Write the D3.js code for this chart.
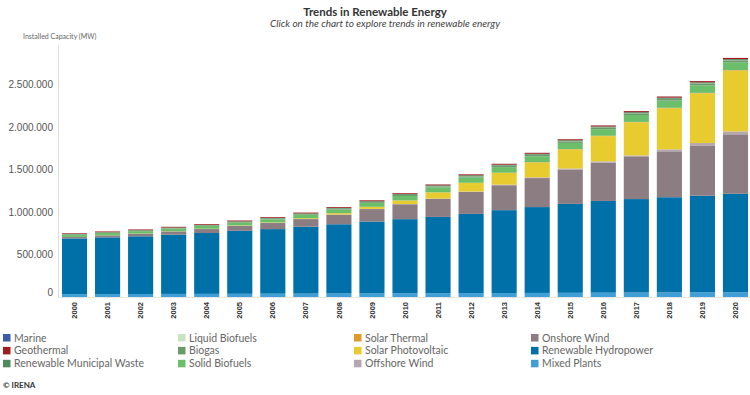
<!DOCTYPE html>
<html>
<head>
<meta charset="utf-8">
<script src="https://cdn.jsdelivr.net/npm/d3@7"></script>
<style>
  body { margin: 0; background: #fff; font-family: Lato, "Open Sans", sans-serif; }
  #svg-container { width: 750px; height: 395px; }
  .title { font-size: 11.5px; font-weight: bold; fill: #333; }
  .subtitle { font-size: 10px; font-style: italic; fill: #444; }
  .unit { font-size: 7px; fill: #666; }
  .y-axis text { font-size: 10px; fill: #555; }
  .x-axis text { font-size: 7.5px; font-weight: bold; fill: #333; }
  .legend-texts { font-size: 10.5px; fill: #666; }
  .credit { font-size: 8px; font-weight: bold; fill: #333; }
</style>
</head>
<body>
<div id="svg-container"></div>
<script>
////////////////////////////  Data  ////////////////////////////////
const years = ["2000", "2001", "2002", "2003", "2004", "2005", "2006", "2007", "2008", "2009", "2010",
  "2011", "2012", "2013", "2014", "2015", "2016", "2017", "2018", "2019", "2020"];

// installed capacity in MW, stacked bottom -> top
const mixedPlants = [34000, 34500, 35200, 36100, 36800, 37500, 38900, 39600, 40800, 41500, 42900,
  44100, 45600, 46800, 47900, 49300, 50800, 52100, 53000, 54200, 55000];
const hydropower = [655000, 667000, 679000, 697000, 716000, 741000, 760000, 787000, 815000, 846000, 873000,
  898000, 932000, 975000, 1010000, 1046000, 1079000, 1100000, 1121000, 1137000, 1159000];
const onshoreWind = [16500, 23000, 30300, 38200, 46400, 57400, 71300, 90100, 113000, 147000, 175000,
  212000, 258000, 293000, 341000, 405000, 452000, 495000, 540000, 592000, 700000];
const offshoreWind = [70, 110, 250, 530, 620, 700, 860, 1100, 1480, 2050, 3050,
  3800, 5300, 7100, 8700, 11700, 14200, 18700, 23400, 28200, 34400];
const solarPV = [800, 1100, 1500, 2100, 3000, 4500, 6100, 8900, 15800, 23500, 41000,
  72000, 101000, 137000, 174000, 223000, 296000, 389000, 483000, 584000, 714000];
const solarThermal = [400, 400, 400, 400, 400, 400, 420, 440, 490, 700, 1300,
  1700, 2500, 3600, 4600, 4800, 4900, 5100, 5600, 6200, 6500];
const solidBiofuels = [25000, 26400, 28100, 30300, 32000, 34600, 36400, 39100, 42200, 46000, 52000,
  57100, 61200, 65300, 69100, 73000, 77200, 81300, 85100, 89000, 93000];
const biogas = [3500, 4000, 4600, 5200, 6000, 6700, 7400, 8300, 9100, 10300, 11900,
  13400, 14800, 15900, 16700, 17400, 18100, 18700, 19300, 19900, 20500];
const liquidBiofuels = [450, 480, 520, 560, 610, 680, 760, 880, 1050, 1280, 1560,
  1760, 1890, 1950, 2010, 2080, 2150, 2200, 2280, 2340, 2400];
const municipalWaste = [5400, 5700, 6100, 6600, 6900, 7200, 7700, 8100, 8400, 8900, 9300,
  9600, 10100, 10600, 10900, 11400, 11800, 12100, 12600, 13100, 13500];
const geothermal = [8000, 8300, 8500, 8700, 8900, 9100, 9300, 9500, 9800, 10200, 10000,
  10200, 10400, 10700, 11300, 11900, 12300, 12800, 13200, 13900, 14100];
const marine = [264, 264, 264, 264, 264, 264, 264, 264, 264, 265, 268,
  510, 512, 514, 516, 520, 522, 526, 528, 527, 527];

const yTicks = [0, 500000, 1000000, 1500000, 2000000, 2500000];

// series in stack order (bottom first)
const series = [
  { key: "Mixed Plants", values: mixedPlants, color: "#3f9fd6" },
  { key: "Renewable Hydropower", values: hydropower, color: "#0071a8" },
  { key: "Onshore Wind", values: onshoreWind, color: "#8b7d82" },
  { key: "Offshore Wind", values: offshoreWind, color: "#b6a7ae" },
  { key: "Solar Photovoltaic", values: solarPV, color: "#e8cc2f" },
  { key: "Solar Thermal", values: solarThermal, color: "#e09a2c" },
  { key: "Solid Biofuels", values: solidBiofuels, color: "#6cbf6a" },
  { key: "Biogas", values: biogas, color: "#6a9a6c" },
  { key: "Liquid Biofuels", values: liquidBiofuels, color: "#c6e4c1" },
  { key: "Renewable Municipal Waste", values: municipalWaste, color: "#4f8a5e" },
  { key: "Geothermal", values: geothermal, color: "#a11c1c" },
  { key: "Marine", values: marine, color: "#3c5ba8" },
];

// legend is read column by column, top of stack first
const legendOrder = series.map((d) => d.key).reverse();

////////////////////////////  Init  ////////////////////////////////
const width = 750;
const height = 395;
const margin = { top: 42, right: -2, bottom: 97, left: 58 };

const svg = d3.select("#svg-container").append("svg")
  .attr("width", width).attr("height", height);

const table = years.map((y, i) => {
  const row = { year: y };
  series.forEach((s) => (row[s.key] = s.values[i]));
  return row;
});

const stacked = d3.stack().keys(series.map((s) => s.key))(table);

const xScale = d3.scaleBand()
  .domain(years)
  .range([margin.left, width - margin.right])
  .paddingInner(0.24)
  .paddingOuter(0.12);

const yScale = d3.scaleLinear()
  .domain([0, 3000000])
  .range([height - margin.bottom - 1, margin.top]);

const colorScale = d3.scaleOrdinal()
  .domain(series.map((s) => s.key))
  .range(series.map((s) => s.color));

const formatY = d3.formatLocale({ decimal: ",", thousands: ".", grouping: [3], currency: ["", ""] }).format(",d");

////////////////////////////  Title  ////////////////////////////////
svg.append("text").attr("class", "title")
  .attr("x", 375).attr("y", 16).attr("text-anchor", "middle")
  .text("Trends in Renewable Energy");

svg.append("text").attr("class", "subtitle")
  .attr("x", 385).attr("y", 27).attr("text-anchor", "middle")
  .text("Click on the chart to explore trends in renewable energy");

svg.append("text").attr("class", "unit")
  .attr("x", 23).attr("y", 39)
  .text("Installed Capacity (MW)");

////////////////////////////  Axes  ////////////////////////////////
const yAxis = d3.axisLeft(yScale).tickValues(yTicks).tickFormat(formatY).tickSize(0).tickPadding(5);

const yG = svg.append("g").attr("class", "y-axis")
  .attr("transform", `translate(${margin.left}, 0)`)
  .call(yAxis);
yG.select(".domain").remove();
yG.selectAll("text").filter((d) => d === 0).attr("dy", "-0.2em");

svg.append("line")
  .attr("x1", margin.left + 0.5).attr("x2", margin.left + 0.5)
  .attr("y1", 45).attr("y2", yScale(0))
  .attr("stroke", "#ddd");

svg.append("line")
  .attr("x1", margin.left).attr("x2", width)
  .attr("y1", yScale(0) + 0.5).attr("y2", yScale(0) + 0.5)
  .attr("stroke", "#e6e6e6");

const xAxis = d3.axisBottom(xScale).tickSize(0);
const xG = svg.append("g").attr("class", "x-axis")
  .attr("transform", `translate(0, ${yScale(0)})`)
  .call(xAxis);
xG.select(".domain").remove();
xG.selectAll("text")
  .attr("transform", "rotate(-90)")
  .attr("text-anchor", "end")
  .attr("x", -5)
  .attr("y", 0)
  .attr("dy", "0.35em");

////////////////////////////  Bars  ////////////////////////////////
svg.append("g")
  .selectAll("g")
  .data(stacked)
  .join("g")
  .attr("fill", (d) => colorScale(d.key))
  .selectAll("rect")
  .data((d) => d)
  .join("rect")
  .attr("x", (d) => xScale(d.data.year))
  .attr("y", (d) => yScale(d[1]))
  .attr("width", xScale.bandwidth())
  .attr("height", (d) => yScale(d[0]) - yScale(d[1]));

////////////////////////////  Legend  ////////////////////////////////
const legendX = [3, 178, 354, 531];
const legendY = 334;
const legendStep = 12.9;

const legend = svg.append("g")
  .selectAll("g")
  .data(legendOrder)
  .join("g")
  .attr("transform", (d, i) => `translate(${legendX[Math.floor(i / 3)]}, ${legendY + (i % 3) * legendStep})`);

legend.append("rect")
  .attr("width", 7.5).attr("height", 7.5)
  .attr("fill", (d) => colorScale(d));

legend.append("text")
  .attr("class", "legend-texts")
  .attr("x", 11).attr("y", 7.5)
  .text((d) => d);

svg.append("text").attr("class", "credit")
  .attr("x", 3).attr("y", 388)
  .text("© IRENA");
</script>
</body>
</html>
